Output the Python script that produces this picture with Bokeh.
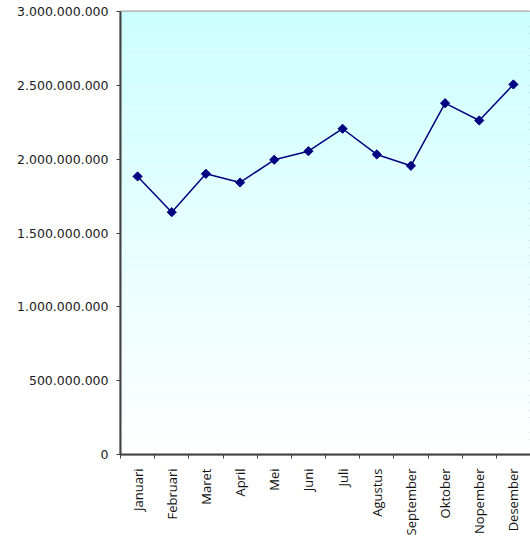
import math
from bokeh.plotting import figure
from bokeh.models import (Range1d, FixedTicker, LinearAxis,
                          BoxAnnotation, ColumnDataSource)
from bokeh.embed import file_html
from bokeh.resources import INLINE

months = ["Januari", "Februari", "Maret", "April", "Mei", "Juni", "Juli",
          "Agustus", "September", "Oktober", "Nopember", "Desember"]
values = [1883000000, 1641000000, 1901000000, 1842000000, 1996000000, 2054000000,
          2206000000, 2032000000, 1955000000, 2379000000, 2262000000, 2506000000]
y_ticks = [0, 500000000, 1000000000, 1500000000, 2000000000, 2500000000, 3000000000]
y_tick_labels = ["0", "500.000.000", "1.000.000.000", "1.500.000.000",
                 "2.000.000.000", "2.500.000.000", "3.000.000.000"]

src = ColumnDataSource(dict(month=months, value=values))

p = figure(x_range=months, y_range=Range1d(0, 3000000000),
           width=530, height=540, output_backend="svg", toolbar_location=None,
           x_axis_location=None, y_axis_location="left",
           min_border_left=120, min_border_top=11, min_border_right=0,
           min_border_bottom=86)
p.x_range.range_padding = 0
p.xgrid.grid_line_color = None
p.ygrid.grid_line_color = None
p.background_fill_color = "white"
p.border_fill_color = "white"
p.outline_line_color = "#a6a6a6"
p.outline_line_width = 2

# vertical gradient background (cyan at top to white at bottom)
n = 60
ymax = 3000000000
for i in range(n):
    b = ymax * i / n
    t = ymax * (i + 1) / n
    frac = (i + 0.5) / n  # 0 bottom -> 1 top
    r = int(round(255 - frac * 51))
    p.add_layout(BoxAnnotation(bottom=b, top=t, fill_color=(r, 255, 255),
                               fill_alpha=1.0, line_color=None, level="underlay"))

# y axis
ya = p.yaxis[0]
ya.ticker = FixedTicker(ticks=y_ticks)
ya.major_label_overrides = {t: l for t, l in zip(y_ticks, y_tick_labels)}
ya.major_label_text_font = "DejaVu Sans"
ya.major_label_text_font_size = "12.5px"
ya.major_label_text_color = "#1a1a1a"
ya.axis_line_color = "#404040"
ya.axis_line_width = 2
ya.major_tick_line_color = "#404040"
ya.major_tick_in = 0
ya.major_tick_out = 4
ya.minor_tick_line_color = None
ya.major_label_standoff = 8

# x axis: labels at category centres, ticks at category boundaries
# (synthetic coordinates of the factor range: factor i spans [i, i+1])
centers = [i + 0.5 for i in range(len(months))]
bounds = list(range(len(months) + 1))
xa = LinearAxis(ticker=FixedTicker(ticks=centers, minor_ticks=bounds),
                major_label_overrides={c: m for c, m in zip(centers, months)},
                axis_line_color="#404040", axis_line_width=2,
                major_tick_line_color=None, major_tick_in=0, major_tick_out=0,
                minor_tick_line_color="#404040", minor_tick_in=0, minor_tick_out=4,
                major_label_orientation=math.pi / 2,
                major_label_text_font="Open Sans",
                major_label_text_font_size="13px",
                major_label_text_color="#111111",
                major_label_standoff=10)
p.add_layout(xa, "below")

p.line("month", "value", source=src, line_color="#000080", line_width=1.5)
p.scatter("month", "value", source=src, marker="square", angle=math.pi / 4,
          size=6.5, fill_color="#000080", line_color="#000080")

open("out.html", "w").write(file_html(p, INLINE))
